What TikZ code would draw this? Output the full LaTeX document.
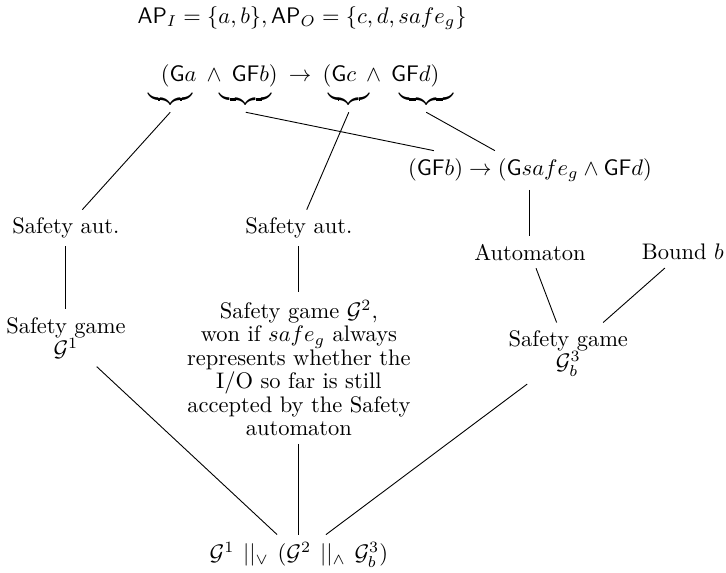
\documentclass[tikz,border=0pt]{standalone}
\usepackage{tikz}
\usetikzlibrary{positioning}

\begin{document}
\begin{tikzpicture}[
    lbl/.style={align=center, font=\linespread{0.87}\selectfont},
    brc/.style={inner sep=2pt},
    line/.style={draw}
]
\useasboundingbox (0,0) rectangle (11.344,-8.953);

\node [lbl] (ap) at (4.72,-0.28) {$\mathsf{AP}_I = \{a,b\}, \mathsf{AP}_O = \{c,d,safe_g\}$};
\node [lbl] (spec) at (4.69,-1.19) {$(\mathsf{G}a \:\wedge\: \mathsf{GF}b) \:\rightarrow\: (\mathsf{G}c \:\wedge\: \mathsf{GF}d)$};

% braces under the conjuncts
\node [brc] (bga) at (2.66,-1.55) {$\underbrace{\hspace{19.6pt}}$};
\node [brc] (bgfb) at (3.84,-1.55) {$\underbrace{\hspace{23.1pt}}$};
\node [brc] (bgc) at (5.45,-1.55) {$\underbrace{\hspace{18.2pt}}$};
\node [brc] (bgfd) at (6.66,-1.55) {$\underbrace{\hspace{24pt}}$};

\node [lbl] (gr) at (8.28,-2.66) {$(\mathsf{GF}b) \rightarrow (\mathsf{G}safe_g \wedge \mathsf{GF}d)$};
\node [lbl] (aut1) at (1.03,-3.56) {Safety aut.};
\node [lbl] (aut2) at (4.67,-3.56) {Safety aut.};
\node [lbl, below of=gr, node distance=1.28cm] (aut3) {Automaton};
\node [lbl, right of=aut3, node distance=2.39cm] (bound) {Bound $b$};

\node [lbl, below of=aut1, node distance=1.72cm] (game1) {Safety game\\ $\mathcal{G}^1$};
\node [lbl, below of=aut2, node distance=2.19cm] (game2) {Safety game $\mathcal{G}^2$,\\ won if $safe_g$ always\\ represents whether the\\ I/O so far is still\\ accepted by the Safety\\ automaton};
\node [lbl] (game3) at (8.88,-5.52) {Safety game\\ $\mathcal{G}^3_b$};

\node [lbl] (prod) at (4.67,-8.67) {$\mathcal{G}^1 \,\mathbin{||_\vee}\, (\mathcal{G}^2 \,\mathbin{||_\wedge}\, \mathcal{G}^3_b)$};

\path [line] (bga.south) -- (aut1);
\path [line] (bgc.south) -- (aut2);
\path [line] (bgfb.south) -- (gr);
\path [line] (bgfd.south) -- (gr);
\path [line] (gr) -- (aut3);
\path [line] (aut1) -- (game1);
\path [line] (aut2) -- (game2);
\path [line] (aut3) -- (game3);
\path [line] (bound) -- (game3);
\path [line] (game1) -- (prod);
\path [line] (game2) -- (prod);
\path [line] (game3) -- (prod);

\end{tikzpicture}
\end{document}
